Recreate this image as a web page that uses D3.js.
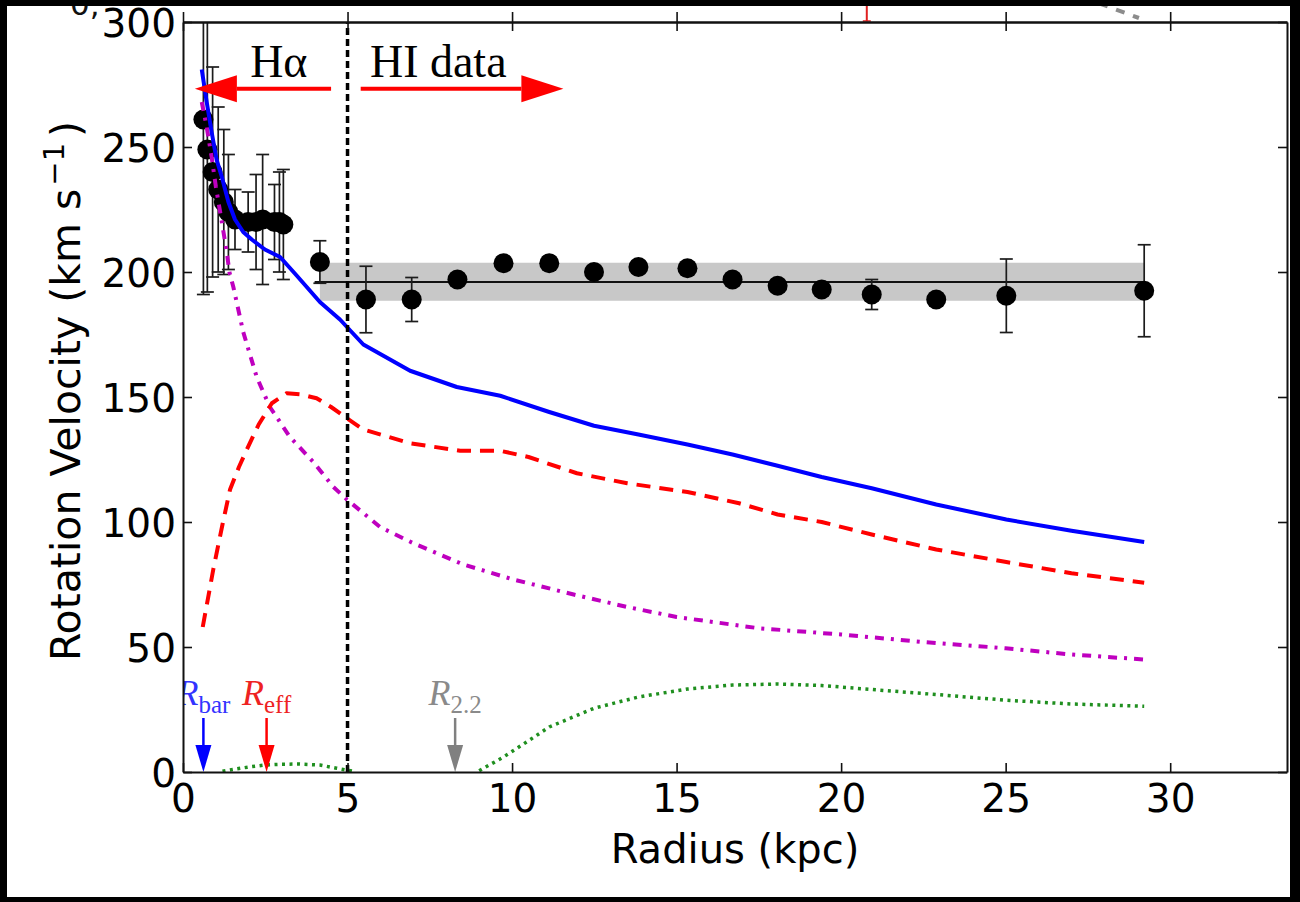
<!DOCTYPE html>
<html><head><meta charset="utf-8">
<script src="https://cdn.jsdelivr.net/npm/d3@7"></script>
<style>
html,body{margin:0;padding:0;background:#000;}
svg{display:block;}
</style></head>
<body>
<svg id="chart" width="1300" height="902"></svg>
<script>
// Rotation curve: Hα + HI observations with the mass-model components

const xTicks = [0, 5, 10, 15, 20, 25, 30];
const yTicks = [0, 50, 100, 150, 200, 250, 300];

// Hα long-slit velocities (radius in kpc, velocity and error in km/s)
const haRadius = [0.62, 0.74, 0.90, 1.07, 1.24, 1.38, 1.58, 1.98, 2.22, 2.42, 2.78, 2.93, 3.05];
const haVel    = [261, 249, 240, 233, 228, 224, 221, 220, 220, 221, 220, 220, 219];
const haErr    = [70, 57, 42, 33, 29, 23, 12, 12, 19, 26, 15, 20, 22];

// HI velocities
const hiRadius = [4.16, 5.56, 6.95, 8.34, 9.74, 11.13, 12.49, 13.84, 15.33, 16.70, 18.07, 19.41, 20.93, 22.89, 25.02, 29.21];
const hiVel    = [204, 189, 189, 197, 203.5, 203.5, 200, 202, 201.5, 197, 194.5, 193, 191, 189, 190.5, 192.5];
const hiErr    = [8.5, 13.3, 8.8, 2.5, 2.5, 2.5, 2.5, 2.5, 2.5, 2.5, 2.5, 2.5, 6, 2.5, 14.7, 18.4];

// Flat outer velocity and its uncertainty band
const flatVel = 196;
const flatBand = [188.5, 203.7];
const flatStart = 4.0;

// Mass model components [radius, velocity]
const totalModel = [[0.57,281],[0.72,268],[0.87,256],[1.02,245],[1.18,238],[1.38,228],[1.58,221],[1.83,216],[2.09,213],[2.49,209],[2.95,206],[3.46,198.5],[4.16,188],[4.77,181],[5.48,171],[6.9,160.5],[8.32,154],[9.64,150.5],[11.13,144],[12.49,138.5],[13.84,135],[15.33,131],[16.7,127],[18.07,122.5],[19.41,118],[20.93,113.5],[22.89,107],[25.02,101],[27,96.5],[29.21,92]];
const stellarDisk = [[0.6,58],[0.92,81],[1.2,99],[1.43,113],[1.7,122],[1.94,129],[2.3,139],[2.7,147.5],[3.15,151.5],[3.6,151],[4.06,149.5],[4.5,146],[4.98,141.5],[5.48,137],[6.9,131.5],[8.42,128.5],[9.64,128.5],[10.5,126],[11.97,119.5],[13.5,115.5],[15.33,112],[16.9,107.5],[18.07,103],[19.41,100],[20.93,95],[22.89,89],[25.02,84],[27,79.5],[29.21,75.7]];
const bulge = [[0.57,268],[0.72,258],[0.87,246],[1.0,234],[1.18,220],[1.33,208],[1.41,200],[1.53,194],[1.63,188],[1.73,182],[1.83,176],[2.24,158],[2.64,146],[3.25,134],[3.96,124],[4.57,114],[4.98,109],[5.99,98],[7.0,91.5],[8.52,83],[10.04,77],[11.87,71],[13.5,66],[15,62],[17.5,57.5],[20,55],[22.5,52],[25,49.5],[27,47],[29.21,45]];
const gas = [[0.57,0],[1.2,0.3],[1.6,1.2],[2.0,2.0],[2.5,2.8],[3.0,3.1],[3.5,3.2],[4.16,2.8],[4.67,1.5],[5.2,0.2],[5.56,0],[6.95,0],[8.34,0],[9.0,0.5],[9.74,6],[10.5,12.5],[11.13,18],[12.49,25.5],[13.84,30],[15.33,33.2],[16.7,34.8],[18.07,35.2],[19.41,34.6],[20.93,33],[22.89,31],[25.02,28.7],[27,27.2],[29.21,26.3]];

// Boundary between Hα and HI coverage
const dataSplit = 5;
const haArrow = {from: 4.5, to: 0.36, v: 273.3};
const hiArrow = {from: 5.4, to: 11.56, v: 273.3};
const haLabel = {r: 2.04, v: 278};
const hiLabel = {r: 5.68, v: 278};

// Characteristic radii
const radiusMarks = [
  {sub: "bar", r: 0.62, color: "#0000ff", text: "#3333ff"},
  {sub: "eff", r: 2.54, color: "#ff0000", text: "#ee2222"},
  {sub: "2.2", r: 8.27, color: "#808080", text: "#8a8a8a"}
];

// Bits of the panel above that reach into this frame
const upperErrBars = [{r: 20.78, lo: 0.4}];
const upperDashed = [[27.9, 7.2], [29.05, 1.6]];

const W = 1300, H = 902;
const mLeft = 183, mRight = 1287, mTop = 22, mBottom = 772;
const sans = "'DejaVu Sans', 'Bitstream Vera Sans', sans-serif";
const serif = "'Liberation Serif', 'Times New Roman', serif";
const tickFont = 39, titleFont = 40;

const svg = d3.select("#chart");
const x = d3.scaleLinear().domain([0, 33.55]).range([mLeft, mRight]);
const y = d3.scaleLinear().domain([0, 300]).range([mBottom, mTop]);
const yUpper = d3.scaleLinear().domain([0, 20]).range([mTop, mTop - 50]);

svg.append("rect").attr("width", W).attr("height", H).attr("fill", "#fff");

svg.append("defs").append("clipPath").attr("id", "plotClip")
  .append("rect").attr("x", mLeft).attr("y", mTop).attr("width", mRight - mLeft).attr("height", mBottom - mTop);

// upper panel fragments
const up = svg.append("g");
upperErrBars.forEach(d => {
  up.append("line").attr("x1", x(d.r)).attr("x2", x(d.r))
    .attr("y1", yUpper(12)).attr("y2", yUpper(d.lo))
    .attr("stroke", "#e02020").attr("stroke-width", 2);
  up.append("line").attr("x1", x(d.r) - 4).attr("x2", x(d.r) + 4)
    .attr("y1", yUpper(d.lo)).attr("y2", yUpper(d.lo))
    .attr("stroke", "#e02020").attr("stroke-width", 1.5);
});
up.append("path").datum(upperDashed)
  .attr("d", d3.line().x(d => x(d[0])).y(d => yUpper(d[1])))
  .attr("fill", "none").attr("stroke", "#8c8c8c").attr("stroke-width", 4)
  .attr("stroke-dasharray", "9,9").attr("stroke-dashoffset", 2);
up.append("text").attr("x", 70).attr("y", 15).text("0,")
  .attr("font-family", sans).attr("font-size", 31).attr("fill", "#111");

const plot = svg.append("g").attr("clip-path", "url(#plotClip)");

// flat-velocity band and line
plot.append("rect")
  .attr("x", x(hiRadius[0])).attr("width", x(hiRadius[hiRadius.length - 1]) - x(hiRadius[0]))
  .attr("y", y(flatBand[1])).attr("height", y(flatBand[0]) - y(flatBand[1]))
  .attr("fill", "#c8c8c8");
plot.append("line")
  .attr("x1", x(flatStart)).attr("x2", x(hiRadius[hiRadius.length - 1]))
  .attr("y1", y(flatVel)).attr("y2", y(flatVel))
  .attr("stroke", "#111").attr("stroke-width", 2.2);

// observations with error bars
const obs = haRadius.map((r, i) => ({r, v: haVel[i], e: haErr[i]}))
  .concat(hiRadius.map((r, i) => ({r, v: hiVel[i], e: hiErr[i]})));
const cap = 6.5;
const eb = plot.append("g").attr("stroke", "#1c1c1c").attr("stroke-width", 1.7);
obs.forEach(d => {
  eb.append("line").attr("x1", x(d.r)).attr("x2", x(d.r)).attr("y1", y(d.v + d.e)).attr("y2", y(d.v - d.e));
  [d.v + d.e, d.v - d.e].forEach(v => eb.append("line")
    .attr("x1", x(d.r) - cap).attr("x2", x(d.r) + cap).attr("y1", y(v)).attr("y2", y(v)));
});
plot.append("g").selectAll("circle").data(obs).join("circle")
  .attr("cx", d => x(d.r)).attr("cy", d => y(d.v)).attr("r", 10).attr("fill", "#000");

// model curves (zero-velocity stretches sit under the axis and are left out)
const line = d3.line().defined(d => d[1] > 0).x(d => x(d[0])).y(d => y(d[1]));
const curves = [
  {data: gas, color: "#1f8f1f", width: 3.5, dash: "3,4.5"},
  {data: bulge, color: "#bf00bf", width: 4, dash: "9,7,3,7"},
  {data: stellarDisk, color: "#ff0000", width: 4, dash: "14,9"},
  {data: totalModel, color: "#0000ff", width: 4, dash: null}
];
curves.forEach(c => plot.append("path").datum(c.data).attr("d", line)
  .attr("fill", "none").attr("stroke", c.color).attr("stroke-width", c.width)
  .attr("stroke-linejoin", "round").attr("stroke-dasharray", c.dash));

// Hα / HI boundary
plot.append("line").attr("x1", x(dataSplit)).attr("x2", x(dataSplit))
  .attr("y1", y(0)).attr("y2", y(300))
  .attr("stroke", "#000").attr("stroke-width", 3.5).attr("stroke-dasharray", "7,4");

// coverage arrows
function arrow(a, color) {
  const dir = Math.sign(a.to - a.from);
  const tip = x(a.to), yy = y(a.v), len = 42, hw = 13.5;
  const base = tip - dir * len;
  plot.append("line").attr("x1", x(a.from)).attr("x2", base).attr("y1", yy).attr("y2", yy)
    .attr("stroke", color).attr("stroke-width", 4);
  plot.append("path")
    .attr("d", `M${tip},${yy}L${base},${yy - hw}L${base},${yy + hw}Z`).attr("fill", color);
}
arrow(haArrow, "#ff0000");
arrow(hiArrow, "#ff0000");

plot.append("text").attr("x", x(haLabel.r)).attr("y", y(haLabel.v))
  .attr("font-family", serif).attr("font-size", 46).attr("fill", "#000").text("Hα");
plot.append("text").attr("x", x(hiLabel.r)).attr("y", y(hiLabel.v))
  .attr("font-family", serif).attr("font-size", 46).attr("fill", "#000").text("HI data");

// characteristic-radius markers
radiusMarks.forEach(m => {
  const xx = x(m.r), y0 = y(0);
  plot.append("line").attr("x1", xx).attr("x2", xx).attr("y1", y0 - 54).attr("y2", y0 - 26)
    .attr("stroke", m.color).attr("stroke-width", 2.5);
  plot.append("path").attr("d", `M${xx},${y0}L${xx - 8},${y0 - 27}L${xx + 8},${y0 - 27}Z`).attr("fill", m.color);
  const t = plot.append("text").attr("x", xx).attr("y", y0 - 67).attr("text-anchor", "middle")
    .attr("font-family", serif).attr("fill", m.text);
  t.append("tspan").attr("font-style", "italic").attr("font-size", 36).text("R");
  t.append("tspan").attr("font-size", 25).attr("dy", 8).text(m.sub);
});

// axes
function styleAxis(g, labels) {
  g.select(".domain").attr("stroke", "#111").attr("stroke-width", 2);
  g.selectAll(".tick line").attr("stroke", "#111").attr("stroke-width", 1.6);
  g.attr("font-family", sans).attr("font-size", labels ? tickFont : 0);
  g.selectAll(".tick text").attr("fill", "#000");
}
svg.append("g").attr("transform", `translate(0,${mBottom})`)
  .call(d3.axisBottom(x).tickValues(xTicks).tickSize(-9).tickSizeOuter(0).tickPadding(12))
  .call(g => styleAxis(g, true));
svg.append("g").attr("transform", `translate(${mLeft},0)`)
  .call(d3.axisLeft(y).tickValues(yTicks).tickSize(-9).tickSizeOuter(0).tickPadding(7))
  .call(g => styleAxis(g, true))
  .call(g => g.selectAll(".tick text").attr("dy", "0.36em"));
svg.append("g").attr("transform", `translate(0,${mTop})`)
  .call(d3.axisTop(x).tickValues(xTicks).tickSize(-9).tickSizeOuter(0).tickFormat(""))
  .call(g => styleAxis(g, false));
svg.append("g").attr("transform", `translate(0,${mTop})`)
  .call(d3.axisTop(x).tickValues(xTicks).tickSize(10).tickSizeOuter(0).tickFormat(""))
  .call(g => styleAxis(g, false));
svg.append("g").attr("transform", `translate(${mRight},0)`)
  .call(d3.axisRight(y).tickValues(yTicks).tickSize(-9).tickSizeOuter(0).tickFormat(""))
  .call(g => styleAxis(g, false));

// axis titles
svg.append("text").attr("x", (mLeft + mRight) / 2).attr("y", 863).attr("text-anchor", "middle")
  .attr("font-family", sans).attr("font-size", titleFont).attr("fill", "#000").text("Radius (kpc)");
const yl = svg.append("text").attr("transform", `translate(80,391) rotate(-90)`)
  .attr("text-anchor", "middle").attr("font-family", sans).attr("font-size", titleFont + 1).attr("fill", "#000");
yl.append("tspan").text("Rotation Velocity (km s");
yl.append("tspan").attr("font-size", 29).attr("dy", -16).attr("dx", 3).text("−1");
yl.append("tspan").attr("dy", 16).attr("dx", 6).text(")");

// frame
svg.append("g").attr("fill", "#000").selectAll("rect")
  .data([[0, 0, W, 6], [0, 0, 7, H], [1290, 0, W - 1290, H], [0, 897, W, H - 897]])
  .join("rect").attr("x", d => d[0]).attr("y", d => d[1]).attr("width", d => d[2]).attr("height", d => d[3]);
</script>
</body></html>
